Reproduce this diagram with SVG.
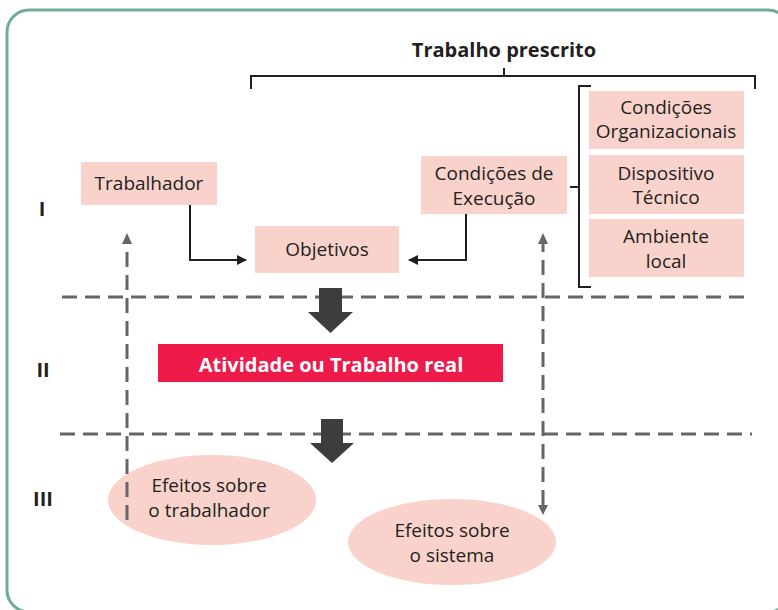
<svg xmlns="http://www.w3.org/2000/svg" width="778" height="610" viewBox="0 0 778 610">
<style>
.box{fill:#f9d3cb}
.t{font-family:"Open Sans","Noto Sans",sans-serif;font-size:19px;fill:#231f20;text-anchor:middle}
.b{font-weight:bold}
.big20{font-size:20px}
.w{fill:#fff}
.dash{stroke:#666;stroke-width:3;stroke-dasharray:15 8;fill:none}
.conn{stroke:#231f20;stroke-width:2;fill:none}
.brk{stroke:#231f20;stroke-width:2;fill:none}
.big{fill:#3d3d3d}
</style>
<defs>
<marker id="ah" viewBox="0 0 10 10" refX="9" refY="5" markerWidth="11" markerHeight="10" markerUnits="userSpaceOnUse" orient="auto">
<path d="M0,0 L10,5 L0,10 z" fill="#231f20"/>
</marker>
</defs>
<rect x="0" y="0" width="778" height="610" fill="#fff"/>
<rect x="7" y="10" width="783" height="602" rx="22" ry="22" fill="#fff" stroke="#6fab98" stroke-width="3"/>

<g id="title">
<text class="t b big20" x="504" y="57">Trabalho prescrito</text>
<path class="brk" d="M251,89 V76 H755 V89 M504,68 V76"/>
</g>

<g id="levels">
<text class="t b big20" x="42" y="216">I</text>
<text class="t b big20" x="43" y="377">II</text>
<text class="t b big20" x="43" y="506">III</text>
</g>

<g id="separators">
<line class="dash" x1="62" y1="297" x2="752" y2="297"/>
<line class="dash" x1="60" y1="434" x2="752" y2="434"/>
</g>

<g id="trabalhador">
<rect class="box" x="81" y="162" width="136" height="43"/>
<text class="t" x="149" y="190">Trabalhador</text>
</g>

<g id="objetivos">
<rect class="box" x="255" y="226" width="144" height="47"/>
<text class="t" x="327" y="256">Objetivos</text>
</g>

<g id="condicoes-execucao">
<rect class="box" x="421" y="156" width="146" height="58"/>
<text class="t" x="494" y="180">Condições de</text>
<text class="t" x="494" y="205">Execução</text>
</g>

<g id="cond-org">
<rect class="box" x="589" y="91" width="155" height="58"/>
<text class="t" x="666" y="114">Condições</text>
<text class="t" x="666" y="138">Organizacionais</text>
</g>

<g id="dispositivo">
<rect class="box" x="589" y="155" width="155" height="59"/>
<text class="t" x="666" y="180">Dispositivo</text>
<text class="t" x="666" y="204">Técnico</text>
</g>

<g id="ambiente">
<rect class="box" x="589" y="219" width="155" height="58"/>
<text class="t" x="666" y="243">Ambiente</text>
<text class="t" x="666" y="268">local</text>
</g>

<g id="bracket-right">
<path class="brk" d="M591,86 H579 V287 H591 M570,187 H579"/>
</g>

<g id="atividade">
<rect x="158" y="344" width="345" height="38" fill="#ee1a4a"/>
<text class="t b big20 w" x="331" y="372">Atividade ou Trabalho real</text>
</g>

<g id="efeitos-trabalhador">
<ellipse class="box" cx="212" cy="500" rx="104" ry="45"/>
<text class="t" x="209" y="492">Efeitos sobre</text>
<text class="t" x="209" y="517">o trabalhador</text>
</g>

<g id="efeitos-sistema">
<ellipse class="box" cx="452" cy="542" rx="104" ry="43"/>
<text class="t" x="452" y="537">Efeitos sobre</text>
<text class="t" x="452" y="562">o sistema</text>
</g>

<g id="connectors">
<path class="conn" d="M190,205 V260 H246" marker-end="url(#ah)"/>
<path class="conn" d="M466,214 V260 H409" marker-end="url(#ah)"/>
<line class="dash" x1="127" y1="520" x2="127" y2="243"/>
<path d="M122,244 L127,233 L132,244 z" fill="#666"/>
<line class="dash" x1="543" y1="505" x2="543" y2="243"/>
<path d="M538,244 L543,233 L548,244 z" fill="#666"/>
<path d="M538,505 L543,515 L548,505 z" fill="#666"/>
<path class="big" d="M319,288 H342 V312 H353 L330.5,333 L308,312 H319 z"/>
<path class="big" d="M321,419 H343 V443 H354 L332,463 L310,443 H321 z"/>
</g>
</svg>
